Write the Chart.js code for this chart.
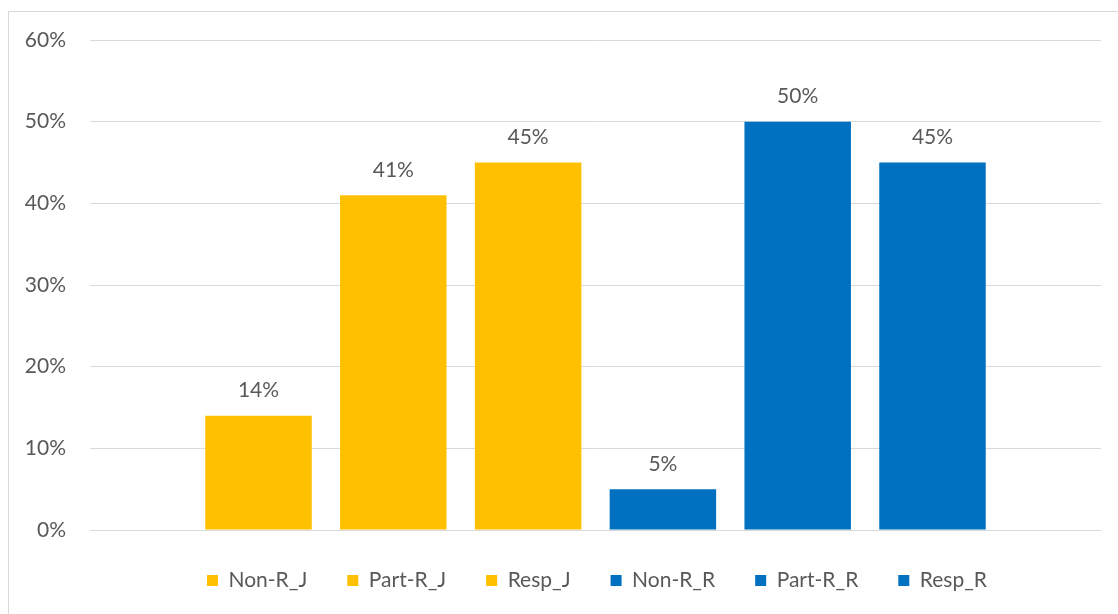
<!DOCTYPE html>
<html>
<head>
<meta charset="utf-8">
<script src="https://cdn.jsdelivr.net/npm/chart.js@4.4.1/dist/chart.umd.min.js"></script>
<style>
  html, body { margin: 0; padding: 0; background: #ffffff; }
  #wrap { position: relative; width: 1118px; height: 614px; overflow: hidden; }
  #frame { position: absolute; left: 8px; top: 11px; width: 1200px; height: 700px; border: 1px solid #d9d9d9; box-sizing: border-box; }
  canvas { position: absolute; left: 0; top: 0; }
</style>
</head>
<body>
<div id="wrap">
  <div id="frame"></div>
  <canvas id="chart" width="1118" height="614"></canvas>
</div>
<script>
// Response groups, one bar each
const seriesNames = ['Non-R_J', 'Part-R_J', 'Resp_J', 'Non-R_R', 'Part-R_R', 'Resp_R'];
const seriesValues = [14, 41, 45, 5, 50, 45];
const seriesColors = ['#FFC000', '#FFC000', '#FFC000', '#0070C0', '#0070C0', '#0070C0'];
const yTicks = [0, 10, 20, 30, 40, 50, 60];

const FONT = 'Lato, "Open Sans", sans-serif';
const TEXT = '#595959';

const datasets = seriesNames.map((name, i) => ({
  label: name,
  data: [seriesValues[i]],
  backgroundColor: seriesColors[i],
  borderWidth: 0,
  categoryPercentage: 0.8,
  barPercentage: 0.79
}));

// Value labels above each bar
const valueLabels = {
  id: 'valueLabels',
  afterDatasetsDraw(chart) {
    const ctx = chart.ctx;
    ctx.save();
    ctx.fillStyle = TEXT;
    ctx.font = '21px ' + FONT;
    ctx.textAlign = 'center';
    ctx.textBaseline = 'middle';
    chart.data.datasets.forEach((ds, i) => {
      const meta = chart.getDatasetMeta(i);
      meta.data.forEach((bar, j) => {
        ctx.fillText(ds.data[j] + '%', bar.x, bar.y - 25);
      });
    });
    ctx.restore();
  }
};

// Centre the legend row under the bar group rather than the whole canvas
const legendShift = {
  id: 'legendShift',
  afterLayout(chart) {
    if (chart.legend) {
      chart.legend.left += 47;
      chart.legend.right += 46;
    }
  }
};

new Chart(document.getElementById('chart'), {
  type: 'bar',
  data: { labels: [''], datasets },
  plugins: [valueLabels, legendShift],
  options: {
    responsive: false,
    animation: false,
    layout: { padding: { top: 40, right: 17, left: 0, bottom: 13 } },
    plugins: {
      tooltip: { enabled: false },
      legend: {
        position: 'bottom',
        labels: {
          color: TEXT,
          font: { family: FONT, size: 21 },
          boxWidth: 11,
          boxHeight: 11,
          padding: 40
        }
      }
    },
    scales: {
      x: {
        display: false
      },
      y: {
        min: 0,
        max: 60,
        afterBuildTicks(scale) { scale.ticks = yTicks.map(v => ({ value: v })); },
        afterFit(scale) { scale.width = 90; },
        grid: { color: '#d9d9d9', lineWidth: 1, drawTicks: false },
        border: { display: false },
        ticks: {
          color: TEXT,
          padding: 24,
          font: { family: FONT, size: 21 },
          callback: v => v + '%'
        }
      }
    }
  }
});
</script>
</body>
</html>
